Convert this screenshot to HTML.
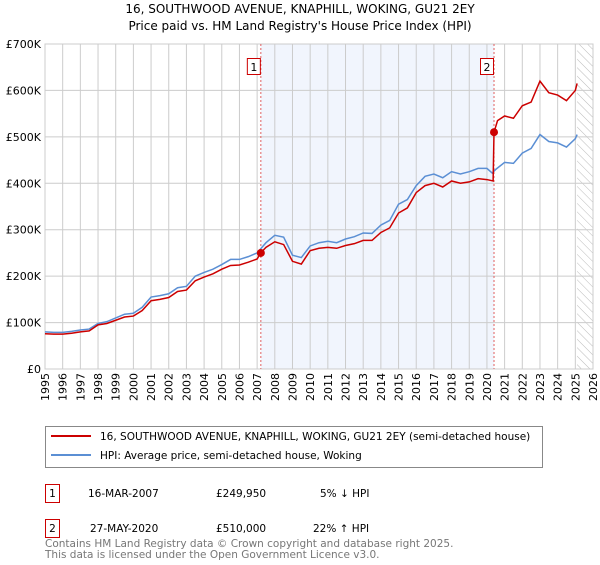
<!DOCTYPE html>
<html><head><meta charset="utf-8"><style>
body{margin:0;background:#fff;font-family:"Liberation Sans","DejaVu Sans",sans-serif}
svg text{font-family:"DejaVu Sans","Liberation Sans",sans-serif}
</style></head><body>
<svg width="600" height="560" viewBox="0 0 600 560">
<defs><pattern id="hatch" width="6" height="6" patternUnits="userSpaceOnUse" patternTransform="rotate(-45)"><line x1="0" y1="0" x2="0" y2="6" stroke="#bbb" stroke-width="1"/></pattern></defs>
<text x="300" y="13" font-size="12" text-anchor="middle">16, SOUTHWOOD AVENUE, KNAPHILL, WOKING, GU21 2EY</text>
<text x="300" y="30" font-size="12" text-anchor="middle">Price paid vs. HM Land Registry's House Price Index (HPI)</text>
<g id="plot"></g>
<g>
<rect x="45.5" y="426.5" width="497" height="41" fill="#fff" stroke="#888"/>
<line x1="51" y1="436" x2="91" y2="436" stroke="#cc0000" stroke-width="2"/>
<text x="100" y="440" font-size="10.5">16, SOUTHWOOD AVENUE, KNAPHILL, WOKING, GU21 2EY (semi-detached house)</text>
<line x1="51" y1="455" x2="91" y2="455" stroke="#5b8fd4" stroke-width="2"/>
<text x="100" y="459" font-size="10.5">HPI: Average price, semi-detached house, Woking</text>
</g>
<g font-size="10.5">
<rect x="45.5" y="484.5" width="14" height="18" fill="none" stroke="#cc0000"/><text x="52.5" y="497" text-anchor="middle">1</text>
<text x="88" y="497">16-MAR-2007</text><text x="216" y="497">£249,950</text><text x="320" y="497">5% ↓ HPI</text>
<rect x="45.5" y="519.5" width="14" height="18" fill="none" stroke="#cc0000"/><text x="52.5" y="532" text-anchor="middle">2</text>
<text x="90" y="532">27-MAY-2020</text><text x="216" y="532">£510,000</text><text x="313" y="532">22% ↑ HPI</text>
</g>
<text x="45" y="547" font-size="10.5" fill="#777">Contains HM Land Registry data © Crown copyright and database right 2025.</text>
<text x="45" y="558" font-size="10.5" fill="#777">This data is licensed under the Open Government Licence v3.0.</text>
</svg>
<script>
const hpiYears=[1995,1995.5,1996,1996.5,1997,1997.5,1998,1998.5,1999,1999.5,2000,2000.5,2001,2001.5,2002,2002.5,2003,2003.5,2004,2004.5,2005,2005.5,2006,2006.5,2007,2007.5,2008,2008.5,2009,2009.5,2010,2010.5,2011,2011.5,2012,2012.5,2013,2013.5,2014,2014.5,2015,2015.5,2016,2016.5,2017,2017.5,2018,2018.5,2019,2019.5,2020,2020.3,2020.5,2021,2021.5,2022,2022.5,2023,2023.5,2024,2024.5,2025,2025.1];
const hpiValues=[80,79,79,81,84,86,98,102,110,118,120,133,155,158,162,175,178,200,208,215,225,236,236,242,250,272,288,284,245,240,265,272,275,272,280,285,293,292,310,320,355,365,395,415,420,412,425,420,425,432,432,422,430,445,443,465,475,505,490,487,478,496,505];
const priceYears=[1995,1995.5,1996,1996.5,1997,1997.5,1998,1998.5,1999,1999.5,2000,2000.5,2001,2001.5,2002,2002.5,2003,2003.5,2004,2004.5,2005,2005.5,2006,2006.5,2007,2007.2,2007.5,2008,2008.5,2009,2009.5,2010,2010.5,2011,2011.5,2012,2012.5,2013,2013.5,2014,2014.5,2015,2015.5,2016,2016.5,2017,2017.5,2018,2018.5,2019,2019.5,2020,2020.35,2020.4,2020.6,2021,2021.5,2022,2022.5,2023,2023.5,2024,2024.5,2025,2025.1];
const priceValues=[76,75,75,77,80,82,95,98,105,112,114,126,147,150,154,167,170,190,198,205,215,223,224,230,237,250,262,274,268,232,226,255,260,262,260,266,270,277,277,294,304,336,347,380,395,400,392,405,400,403,410,408,405,510,535,545,540,567,575,620,595,590,578,600,615];
const yTicks=[0,100,200,300,400,500,600,700];
const yTickLabels=["£0","£100K","£200K","£300K","£400K","£500K","£600K","£700K"];
const xTicks=[1995,1996,1997,1998,1999,2000,2001,2002,2003,2004,2005,2006,2007,2008,2009,2010,2011,2012,2013,2014,2015,2016,2017,2018,2019,2020,2021,2022,2023,2024,2025,2026];
const saleYears=[2007.21,2020.4];
const saleValues=[249.95,510];
const saleLabels=["1","2"];
const X0=45,X1=593,Y0=369,Y1=44;
const xs=y=>X0+(y-1995)/(2026-1995)*(X1-X0);
const ys=v=>Y0-v/700*(Y0-Y1);
const NS="http://www.w3.org/2000/svg";
const g=document.getElementById('plot');
function mk(t,a,p){const e=document.createElementNS(NS,t);for(const k in a)e.setAttribute(k,a[k]);(p||g).appendChild(e);return e;}
let shade=mk('rect',{x:xs(saleYears[0]),y:Y1,width:xs(saleYears[1])-xs(saleYears[0]),height:Y0-Y1,fill:'#eef3fc',opacity:0.8});


let hat=mk('rect',{x:xs(2025.1),y:Y1,width:X1-xs(2025.1),height:Y0-Y1,fill:'url(#hatch)'});


xTicks.forEach(t=>{let l=mk('line',{x1:xs(t),x2:xs(t),y1:Y1,y2:Y0,stroke:'#ccc','stroke-width':1});


let tx=mk('text',{x:0,y:0,'font-size':11,'text-anchor':'end',transform:`translate(${xs(t)+4},${Y0+4}) rotate(-90)`});tx.textContent=t;

});
yTicks.forEach((t,i)=>{let l=mk('line',{x1:X0,x2:X1,y1:ys(t),y2:ys(t),stroke:'#ccc','stroke-width':1});


let tx=mk('text',{x:X0-4,y:ys(t)+4,'font-size':11,'text-anchor':'end'});tx.textContent=yTickLabels[i];

});
let fr=mk('rect',{x:X0,y:Y1,width:X1-X0,height:Y0-Y1,fill:'none',stroke:'#ccc'});


saleYears.forEach((s,i)=>{let l=mk('line',{x1:xs(s),x2:xs(s),y1:Y1,y2:Y0,stroke:'#e06060','stroke-dasharray':'2,2','stroke-width':1});


let r=mk('rect',{x:xs(s)-13.5,y:58.5,width:13,height:16,fill:'#fff',stroke:'#cc0000'});


let t=mk('text',{x:xs(s)-7,y:71,'font-size':11,'text-anchor':'middle'});t.textContent=saleLabels[i];

});
let hp=mk('polyline',{points:hpiYears.map((y,i)=>xs(y)+','+ys(hpiValues[i])).join(' '),fill:'none',stroke:'#5b8fd4','stroke-width':1.5});


let pp=mk('polyline',{points:priceYears.map((y,i)=>xs(y)+','+ys(priceValues[i])).join(' '),fill:'none',stroke:'#cc0000','stroke-width':1.5});


saleYears.forEach((s,i)=>{let c=mk('circle',{cx:xs(s),cy:ys(saleValues[i]),r:4,fill:'#cc0000'});

});
</script>
</body></html>
